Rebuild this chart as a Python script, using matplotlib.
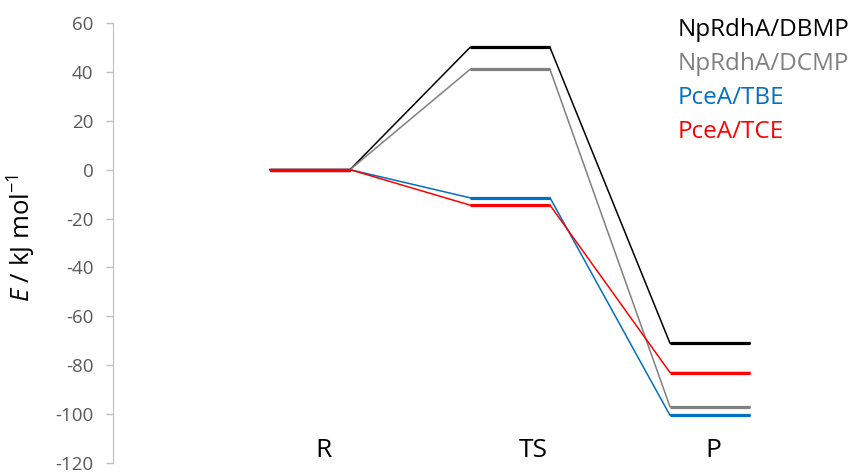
import matplotlib
matplotlib.use("Agg")
import matplotlib.pyplot as plt

# energy profile data (kJ/mol)
states = ["R", "TS", "P"]
series_names = ["NpRdhA/DBMP", "NpRdhA/DCMP", "PceA/TBE", "PceA/TCE"]
dbmp = [0, 50, -71]
dcmp = [0, 41, -97]
tbe = [0, -11.5, -100.5]
tce = [0, -14.5, -83]
colors = ["#000000", "#808080", "#0070c0", "#ff0000"]

plt.rcParams['font.family'] = ['Open Sans', 'DejaVu Sans']
plt.rcParams['axes.unicode_minus'] = False
plt.rcParams['mathtext.fontset'] = 'custom'
plt.rcParams['mathtext.rm'] = 'Open Sans'
plt.rcParams['mathtext.it'] = 'Open Sans:italic'

fig = plt.figure(figsize=(8.67, 4.73), dpi=100)
ax = fig.add_axes([113 / 867, 10 / 473, 1 - 113 / 867, 440 / 473])

half = 0.2
for vals, c in zip([dbmp, dcmp, tbe, tce], colors):
    xs, ys = [], []
    for i, v in enumerate(vals):
        xs += [i - half, i + half]
        ys += [v, v]
    # thin connectors, thick levels on top
    ax.plot(xs, ys, color=c, lw=1.1)
    for i, v in enumerate(vals):
        ax.plot([i - half, i + half], [v, v], color=c, lw=2.3,
                solid_capstyle='butt')

ax.set_xlim(-0.985, 2.785)
ax.set_ylim(-120, 60)
ax.set_yticks(range(-120, 61, 20))
ax.set_xticks([])
for s in ["top", "right", "bottom"]:
    ax.spines[s].set_visible(False)
ax.spines["left"].set_color("#bfbfbf")
ax.tick_params(axis="y", colors="#bfbfbf", labelcolor="#595959",
               labelsize=13.5, length=5, width=1, pad=9)

# state labels along the bottom
label_offsets = [0.065, 1.115, 2.015]
for i, (name, off) in enumerate(zip(states, label_offsets)):
    ax.text(off, -115, name, ha="center", va="center", fontsize=19,
            color="#000000")

# legend as coloured text
for k, (name, c) in enumerate(zip(series_names, colors)):
    fig.text(678 / 867, 1 - (30.5 + 33.8 * k) / 473, name, color=c,
             fontsize=17.5, ha="left", va="center")

fig.text(22 / 867, 1 - 238 / 473, r"$\mathit{E}$ / kJ mol$^{\mathrm{-1}}$",
         rotation=90, ha="center", va="center", fontsize=18.5)

fig.savefig("out.png", dpi=100)
